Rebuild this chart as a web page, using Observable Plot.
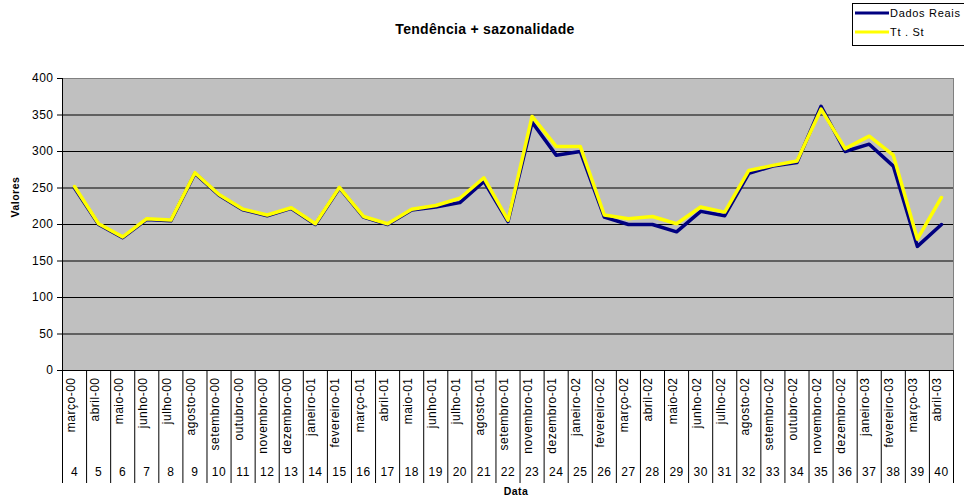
<!DOCTYPE html>
<html>
<head>
<meta charset="utf-8">
<script src="https://cdn.jsdelivr.net/npm/d3@7"></script>
<script src="https://cdn.jsdelivr.net/npm/@observablehq/plot@0.6"></script>
<style>
  body { margin: 0; background: white; font-family: "Liberation Sans", Arial, sans-serif; overflow: hidden; }
  #wrap { position: relative; width: 964px; height: 503px; overflow: hidden; }
  #title { position: absolute; left: 3px; top: 21px; width: 964px; text-align: center; font-weight: bold; font-size: 14px; letter-spacing: 0.3px; line-height: 16px; }
  #legend { position: absolute; left: 852px; top: 3px; width: 111px; height: 41px; border: 1px solid #000; background: #fff; font-size: 11px; letter-spacing: 0.7px; }
  #legend .row { position: absolute; left: 2px; height: 14px; display: flex; align-items: center; white-space: nowrap; }
  #legend svg { margin-right: 1px; }
</style>
</head>
<body>
<div id="wrap">
  <div id="chart"></div>
  <div id="title">Tendência + sazonalidade</div>
  <div id="legend"></div>
</div>
<script>
const numeros = [4,5,6,7,8,9,10,11,12,13,14,15,16,17,18,19,20,21,22,23,24,25,26,27,28,29,30,31,32,33,34,35,36,37,38,39,40];
const meses = ["março-00","abril-00","maio-00","junho-00","julho-00","agosto-00","setembro-00","outubro-00","novembro-00","dezembro-00","janeiro-01","fevereiro-01","março-01","abril-01","maio-01","junho-01","julho-01","agosto-01","setembro-01","novembro-01","dezembro-01","janeiro-02","fevereiro-02","março-02","abril-02","maio-02","junho-02","julho-02","agosto-02","setembro-02","outubro-02","novembro-02","dezembro-02","janeiro-03","fevereiro-03","março-03","abril-03"];
const dadosReais = [250,200,182,207,205,270,240,220,212,222,200,250,210,200,220,224,230,259,204,340,295,300,210,200,200,190,218,212,270,280,285,362,300,310,280,170,200];
const ttSt = [252,201,183,208,206,271,241,221,213,223,201,251,211,201,221,226,236,264,206,348,307,307,213,208,211,201,224,217,274,281,287,358,304,321,295,180,237];
const yTicks = [0,50,100,150,200,250,300,350,400];
const series = [{name: "Dados Reais", color: "#000080"}, {name: "Tt . St", color: "#ffff00"}];

const data = numeros.map((n, i) => ({n, mes: meses[i], real: dadosReais[i], tt: ttSt[i]}));
const xDomain = [numeros[0] - 0.5, numeros[numeros.length - 1] + 0.5];
const bounds = [...numeros.map(n => n - 0.5), numeros[numeros.length - 1] + 0.5];
const font = '"Liberation Sans", Arial, sans-serif';

const chart = Plot.plot({
  width: 964,
  height: 503,
  marginLeft: 62,
  marginRight: 11,
  marginTop: 78,
  marginBottom: 133,
  x: {type: "linear", domain: xDomain},
  y: {domain: [yTicks[0], yTicks[yTicks.length - 1]]},
  style: {fontFamily: font, fontSize: "12px", background: "white", color: "#000", letterSpacing: "0.5px"},
  marks: [
    Plot.frame({fill: "#c0c0c0", stroke: "#808080"}),
    Plot.gridY({ticks: yTicks.slice(1, -1), stroke: "#000", strokeOpacity: 1}),
    Plot.ruleX([xDomain[0]], {stroke: "#000"}),
    Plot.ruleY([yTicks[0]], {stroke: "#000"}),
    Plot.axisY({ticks: yTicks, tickSize: 5, tickPadding: 4, label: null, stroke: "#000", fontSize: 12}),
    Plot.axisX({ticks: bounds, tickSize: 113, tickFormat: () => "", label: null, stroke: "#000"}),
    Plot.line(data, {x: "n", y: "real", stroke: series[0].color, strokeWidth: 3.5}),
    Plot.line(data, {x: "n", y: "tt", stroke: series[1].color, strokeWidth: 3.5}),
    Plot.text(data, {x: "n", text: "mes", frameAnchor: "bottom", rotate: -90, textAnchor: "end", dy: 7, fontSize: 12}),
    Plot.text(data, {x: "n", text: d => String(d.n), frameAnchor: "bottom", dy: 105, fontSize: 12}),
    Plot.text(["Valores"], {frameAnchor: "left", dx: -47, dy: -7, rotate: -90, fontWeight: "bold", fontSize: 10.5}),
    Plot.text(["Data"], {frameAnchor: "bottom", dy: 124, dx: 8, fontWeight: "bold", fontSize: 10.5})
  ]
});
document.getElementById("chart").appendChild(chart);

const legend = document.getElementById("legend");
series.forEach((s, i) => {
  const row = document.createElement("div");
  row.className = "row";
  row.style.top = (i === 0 ? 2 : 21) + "px";
  row.innerHTML = `<svg width="34" height="6"><line x1="0" y1="3" x2="34" y2="3" stroke="${s.color}" stroke-width="3"/></svg><span>${s.name}</span>`;
  legend.appendChild(row);
});
</script>
</body>
</html>
